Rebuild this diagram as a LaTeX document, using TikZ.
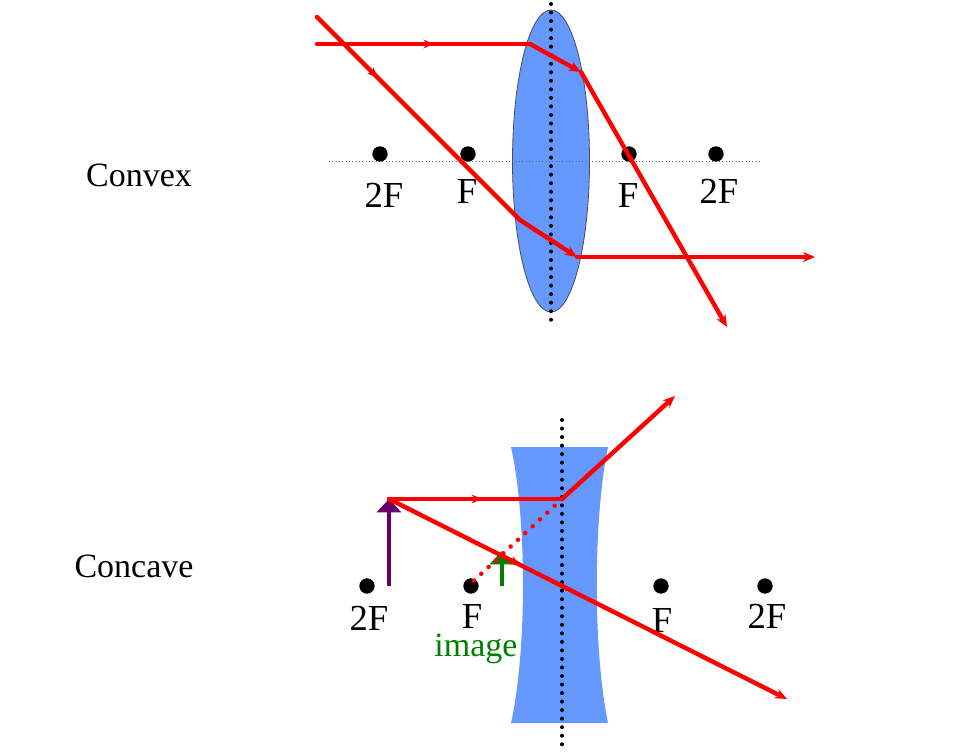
\documentclass[tikz,border=0pt]{standalone}
\usepackage{fontspec}
\setmainfont{Liberation Serif}
\usetikzlibrary{arrows.meta,decorations.markings}
\definecolor{lensblue}{HTML}{6699FF}
\definecolor{objpurple}{HTML}{660066}
\definecolor{imggreen}{HTML}{008000}
\begin{document}
\begin{tikzpicture}[x=0.75pt,y=-0.75pt,
    focus/.style = {circle, fill=black, inner sep=0pt, minimum size=11.5pt},
    lbl/.style = {anchor=base, inner sep=0pt, font=\fontsize{27.5}{30}\selectfont},
    side/.style = {anchor=base, inner sep=0pt, font=\fontsize{25.5}{28}\selectfont},
    ray/.style = {draw=red, line width=3.3pt, line cap=round},
    tip/.style = {-{Stealth[length=9pt,width=7.5pt]}},
    mid arrow/.style = {postaction={decorate}, decoration={markings,
        mark=at position #1 with {\arrow{Stealth[length=8pt,width=6.5pt]}}}},
    centre/.style = {draw=black, line width=3pt, line cap=round, dash pattern=on 0pt off 6.4pt},
    upright/.style = {line width=3pt, -{Triangle[length=10pt,width=18pt]}}]
\useasboundingbox (0,0) rectangle (958,754);
% convex lens
\fill[lensblue, draw=black!70, line width=0.6pt] (551,161) ellipse [x radius=38.5, y radius=151];
\draw[black!60, line width=0.5pt, dotted] (329,161) -- (762,161);
\draw[centre] (551,4) -- (551,322);
\node[side] (convex) at (139,186) {Convex};
\node[focus] (a2F) at (380,154) {};
\node[focus] (aF) at (468,154) {};
\node[focus] (bF) at (629,154) {};
\node[focus] (b2F) at (716,154) {};
\node[lbl] (la2F) at (384,207) {2F};
\node[lbl] (laF) at (467,203) {F};
\node[lbl] (lbF) at (628,207) {F};
\node[lbl] (lb2F) at (719,203) {2F};
\coordinate (aS) at (317,44);
\coordinate (aB) at (530,44);
\coordinate (aC) at (581,72);
\coordinate (aE) at (727,327);
\coordinate (bS) at (317,17);
\coordinate (bB) at (520,220);
\coordinate (bC) at (577,257);
\coordinate (bE) at (815,257);
\draw[ray, mid arrow=0.55] (aS) -- (aB);
\draw[ray, tip] (aB) -- (aC);
\draw[ray, tip] (aC) -- (aE);
\draw[ray, mid arrow=0.3] (bS) -- (bB);
\draw[ray, tip] (bB) -- (bC);
\draw[ray, tip] (bC) -- (bE);
% concave lens
\fill[lensblue] (511,447) -- (608,447) .. controls (593,520) and (593,650) .. (608,723)
    -- (511,723) .. controls (527,650) and (527,520) .. (511,447) -- cycle;
\draw[centre] (562,420) -- (562,748);
\node[side] (concave) at (134,577) {Concave};
\node[focus] (c2F) at (367,586) {};
\node[focus] (cF) at (471,586) {};
\node[focus] (dF) at (661,586) {};
\node[focus] (d2F) at (765,586) {};
\node[lbl] (lc2F) at (369,630) {2F};
\node[lbl] (lcF) at (472,628) {F};
\node[lbl] (ldF) at (662,632) {F};
\node[lbl] (ld2F) at (767,628) {2F};
\node[side, text=imggreen] (image) at (476,656) {image};
\coordinate (objB) at (389,586);
\coordinate (objT) at (389,499);
\coordinate (imgB) at (502,586);
\coordinate (imgT) at (502,551);
\coordinate (cB) at (562,499);
\coordinate (cE) at (675,396);
\coordinate (dE) at (787,699);
\coordinate (virt) at (467,587);
\draw[draw=objpurple, upright] (objB) -- (objT);
\draw[draw=imggreen, upright] (imgB) -- (imgT);
\draw[red, line width=3.4pt, line cap=round, dash pattern=on 0pt off 7.5pt] (cB) -- (virt);
\draw[ray, mid arrow=0.54] (objT) -- (cB);
\draw[ray, tip] (cB) -- (cE);
\draw[ray, tip, mid arrow=0.33] (objT) -- (dE);
\end{tikzpicture}
\end{document}
